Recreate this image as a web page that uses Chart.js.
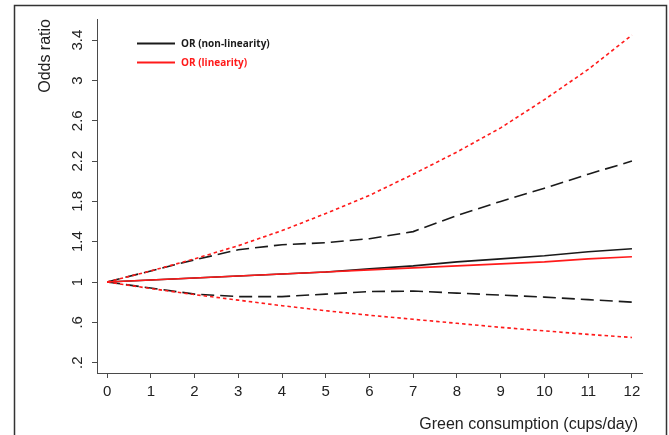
<!DOCTYPE html>
<html>
<head>
<meta charset="utf-8">
<script src="https://cdn.jsdelivr.net/npm/chart.js@4.4.1/dist/chart.umd.min.js"></script>
<style>
  html, body { margin: 0; padding: 0; background: #fff; }
  #wrap { width: 669px; height: 435px; }
</style>
</head>
<body>
<div id="wrap"><canvas id="chart" width="669" height="435"></canvas></div>
<script>
// cups/day
const cups = [0, 1, 2, 3, 4, 5, 6, 7, 8, 9, 10, 11, 12];

// non-linearity model (black)
const orNonLin = [1, 1.02, 1.04, 1.06, 1.08, 1.10, 1.13, 1.16, 1.20, 1.23, 1.26, 1.30, 1.33];
const upperNonLin = [1, 1.11, 1.22, 1.32, 1.37, 1.39, 1.43, 1.50, 1.66, 1.80, 1.93, 2.07, 2.20];
const lowerNonLin = [1, 0.94, 0.88, 0.855, 0.855, 0.88, 0.905, 0.91, 0.89, 0.87, 0.85, 0.825, 0.80];

// linearity model (red)
const orLin = [1, 1.02, 1.04, 1.06, 1.08, 1.10, 1.12, 1.14, 1.16, 1.18, 1.20, 1.23, 1.25];
const upperLin = [1, 1.11, 1.23, 1.36, 1.51, 1.68, 1.86, 2.07, 2.29, 2.53, 2.81, 3.11, 3.45];
const lowerLin = [1, 0.935, 0.875, 0.82, 0.765, 0.715, 0.67, 0.63, 0.59, 0.55, 0.515, 0.48, 0.45];

const yTickValues = [0.2, 0.6, 1, 1.4, 1.8, 2.2, 2.6, 3, 3.4];
const yTickLabels = ['.2', '.6', '1', '1.4', '1.8', '2.2', '2.6', '3', '3.4'];
const legendLabels = ['OR (non-linearity)', 'OR (linearity)'];

const BLACK = '#1a1a1a';
const RED = '#ff1a1a';
const AXIS = '#4a4a4a';

const pts = (vals) => cups.map((c, i) => ({ x: c, y: vals[i] }));

const line = (vals, color, dash) => ({
  data: pts(vals),
  borderColor: color,
  borderWidth: 1.6,
  borderDash: dash || [],
  pointRadius: 0,
  tension: 0,
  fill: false,
});

// frame, rotated y labels, axis titles and the legend
const stataBits = {
  id: 'stataBits',
  afterDraw(chart) {
    const { ctx, scales: { y } } = chart;
    ctx.save();
    ctx.strokeStyle = '#333';
    ctx.lineWidth = 1.5;
    ctx.beginPath();
    ctx.moveTo(14.5, 440);
    ctx.lineTo(14.5, 5.5);
    ctx.lineTo(666.5, 5.5);
    ctx.lineTo(666.5, 440);
    ctx.stroke();

    ctx.fillStyle = '#222';
    ctx.font = '15px "Liberation Sans", Arial, sans-serif';
    ctx.textAlign = 'center';
    ctx.textBaseline = 'middle';
    yTickValues.forEach((v, i) => {
      ctx.save();
      ctx.translate(78, y.getPixelForValue(v));
      ctx.rotate(-Math.PI / 2);
      ctx.fillText(yTickLabels[i], 0, 0);
      ctx.restore();
    });

    ctx.font = '16px "Liberation Sans", Arial, sans-serif';
    ctx.save();
    ctx.translate(46, 19);
    ctx.rotate(-Math.PI / 2);
    ctx.textAlign = 'right';
    ctx.fillText('Odds ratio', 0, 0);
    ctx.restore();

    ctx.textAlign = 'right';
    ctx.fillText('Green consumption (cups/day)', 638, 425);

    // legend
    const rows = [{ c: BLACK, y: 43 }, { c: RED, y: 62 }];
    ctx.font = 'bold 10px "Open Sans", sans-serif';
    ctx.textAlign = 'left';
    rows.forEach((r, i) => {
      ctx.strokeStyle = r.c;
      ctx.lineWidth = 1.8;
      ctx.beginPath();
      ctx.moveTo(137, r.y + 0.5);
      ctx.lineTo(175, r.y + 0.5);
      ctx.stroke();
      ctx.fillStyle = r.c;
      ctx.fillText(legendLabels[i], 181, r.y + 1);
    });
    ctx.restore();
  },
};

new Chart(document.getElementById('chart'), {
  type: 'line',
  data: {
    datasets: [
      line(orLin, RED),
      line(upperLin, RED, [3.5, 3]),
      line(lowerLin, RED, [3.5, 3]),
      line(orNonLin, BLACK),
      line(upperNonLin, BLACK, [13, 6]),
      line(lowerNonLin, BLACK, [13, 6]),
    ],
  },
  options: {
    responsive: false,
    animation: false,
    devicePixelRatio: 1,
    layout: { padding: { top: 19, right: 27, bottom: 0, left: 0 } },
    plugins: { legend: { display: false }, tooltip: { enabled: false } },
    scales: {
      x: {
        type: 'linear',
        min: -0.23,
        max: 12.23,
        afterBuildTicks: (s) => { s.ticks = cups.map((v) => ({ value: v })); },
        afterFit: (s) => { s.height = 62; },
        grid: { drawOnChartArea: false, drawTicks: true, tickLength: 5, color: AXIS },
        border: { display: true, color: AXIS, width: 1 },
        ticks: { color: '#222', padding: 5, maxRotation: 0, autoSkip: false, font: { family: '"Liberation Sans", Arial, sans-serif', size: 15 } },
      },
      y: {
        type: 'linear',
        min: 0.097,
        max: 3.61,
        afterBuildTicks: (s) => { s.ticks = yTickValues.map((v) => ({ value: v })); },
        afterFit: (s) => { s.width = 97; },
        grid: { drawOnChartArea: false, drawTicks: true, tickLength: 5, color: AXIS },
        border: { display: true, color: AXIS, width: 1 },
        ticks: { display: false },
      },
    },
  },
  plugins: [stataBits],
});
</script>
</body>
</html>
